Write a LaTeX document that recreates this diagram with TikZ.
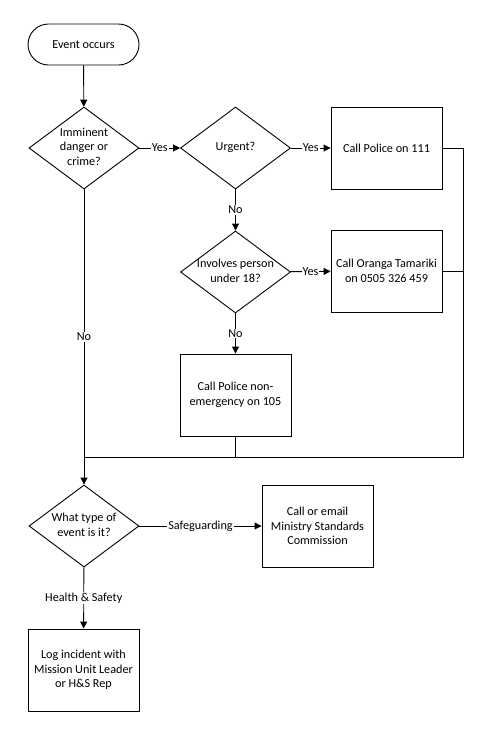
\documentclass[tikz,border=0pt]{standalone}
\usepackage{fontspec}
\setmainfont{Carlito}
\usetikzlibrary{shapes.geometric,arrows.meta}
\newcommand{\dtext}[1]{\makebox[0pt]{\begin{tabular}{@{}c@{}}#1\end{tabular}}}
\tikzset{
  terminal/.style={draw, rounded corners=20.5pt, minimum width=111pt, minimum height=41pt},
  decision/.style={draw, diamond, inner sep=0pt, minimum width=110pt, minimum height=82pt},
  process/.style={draw, rectangle, align=center, minimum width=111pt, minimum height=82pt},
  lbl/.style={fill=white, inner sep=1pt},
}
\begin{document}
\begin{tikzpicture}[>={Triangle[length=7pt,width=7pt]}, x=1pt, y=-1pt, line width=0.9pt,
    font=\fontsize{12.2}{14.6}\selectfont]
  \useasboundingbox (0,0) rectangle (490,734);
  % main column
  \node[terminal] (start) at (83.5,44.5) {Event occurs};
  \node[decision] (danger) at (84,148) {\dtext{Imminent\\danger or\\crime?}};
  \node[decision] (urgent) at (235.5,148) {\dtext{Urgent?}};
  \node[process] (police) at (386.5,148) {Call Police on 111};
  \node[decision] (minor) at (235.5,272) {\dtext{Involves person\\under 18?}};
  \node[process] (oranga) at (386.5,271) {Call Oranga Tamariki\\on 0505 326 459};
  \node[process] (nonem) at (235.5,395) {Call Police non-\\emergency on 105};
  \node[decision] (type) at (84,526) {\dtext{What type of\\event is it?}};
  \node[process] (msc) at (317.5,526) {Call or email\\Ministry Standards\\Commission};
  \node[process] (log) at (83.5,670) {Log incident with\\Mission Unit Leader\\or H\&S Rep};
  \coordinate (join) at (84,457);
  \coordinate (rt) at (463,457);
  % connectors
  \draw[->] (start) -- (danger);
  \draw[->] (danger) -- node[lbl] (y1) {Yes} (urgent);
  \draw[->] (urgent) -- node[lbl] (y2) {Yes} (police);
  \draw[->] (urgent) -- node[lbl] (n2) {No} (minor);
  \draw[->] (minor) -- node[lbl] (y3) {Yes} (oranga);
  \draw[->] (minor) -- node[lbl] (n3) {No} (nonem);
  \draw[->] (danger) -- node[lbl] (n1) {No} (type);
  \draw (police) -| (rt) -- (join);
  \draw (oranga) -- (oranga -| rt);
  \draw (nonem) -- (nonem |- join);
  \draw[->] (type) -- node[lbl] (sg) {Safeguarding} (msc);
  \draw[->] (type) -- node[lbl] (hs) {Health \& Safety} (log);
\end{tikzpicture}
\end{document}
